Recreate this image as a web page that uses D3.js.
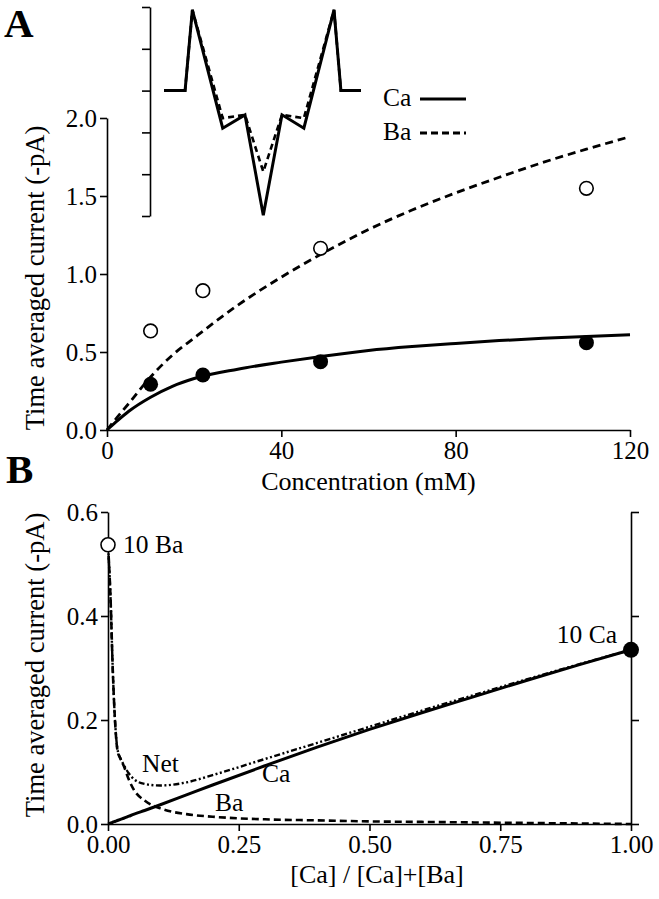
<!DOCTYPE html>
<html>
<head>
<meta charset="utf-8">
<script src="https://cdn.jsdelivr.net/npm/d3@7"></script>
<style>
  html, body { margin: 0; padding: 0; background: #fff; }
  svg { display: block; }
  svg text { font-family: "Liberation Serif", "Times New Roman", serif !important; font-size: 25.5px; fill: #000; }
  svg g.axis text { font-size: 25px; }
  svg text.title { font-size: 26px; }
  svg text.ytitle { font-size: 26.5px; }
  svg text.panel { font-size: 41px; font-weight: bold; }
</style>
</head>
<body>
<script>
// ---------- Panel A data ----------
const concPts = [10, 22, 49, 110];
const caPts = [0.293, 0.353, 0.438, 0.56];
const baPts = [0.635, 0.893, 1.165, 1.549];
const fitConc = [0, 2, 5, 10, 15, 20, 30, 40, 50, 60, 70, 80, 90, 100, 110, 120];
const caFit = [0, 0.05, 0.12, 0.21, 0.28, 0.33, 0.39, 0.435, 0.475, 0.51, 0.535, 0.555, 0.573, 0.588, 0.6, 0.61];
const baFit = [0, 0.07, 0.17, 0.34, 0.48, 0.59, 0.8, 0.98, 1.14, 1.285, 1.41, 1.52, 1.62, 1.715, 1.8, 1.88];
const xTicksA = [0, 40, 80, 120];
const yTicksA = [0, 0.5, 1.0, 1.5, 2.0];

// ---------- Inset (energy profile) ----------
const insetPos = [0, 1.07, 1.44, 2.98, 4.11, 5.04, 5.99, 7.1, 8.63, 8.98, 10];
const insetCa = [3, 3, 4.93, 2.1, 2.42, 0.02, 2.42, 2.1, 4.93, 3, 3];
const insetBa = [3, 3, 4.93, 2.34, 2.42, 1.06, 2.42, 2.34, 4.93, 3, 3];
const insetTicks = [0, 1, 2, 3, 4, 5];
const legendLabels = ["Ca", "Ba"];

// ---------- Panel B data ----------
const fracB = [0, 0.002, 0.005, 0.009, 0.013, 0.018, 0.024, 0.03, 0.04, 0.05, 0.07, 0.1, 0.15, 0.2, 0.3, 0.4, 0.5, 0.6, 0.7, 0.8, 0.9, 1.0];
const caB  = [0, 0.0007, 0.0019, 0.0033, 0.0048, 0.0067, 0.0089, 0.011, 0.015, 0.019, 0.026, 0.037, 0.056, 0.075, 0.112, 0.148, 0.182, 0.214, 0.245, 0.276, 0.306, 0.335];
const baB  = [0.537, 0.5, 0.43, 0.3, 0.206, 0.142, 0.125, 0.112, 0.085, 0.065, 0.045, 0.03, 0.019, 0.014, 0.009, 0.007, 0.005, 0.004, 0.003, 0.002, 0.001, 0.0];
const netB = [0.537, 0.5, 0.43, 0.3, 0.206, 0.145, 0.126, 0.114, 0.097, 0.086, 0.077, 0.074, 0.08, 0.094, 0.125, 0.156, 0.187, 0.218, 0.248, 0.278, 0.307, 0.335];
const endPtsFrac = [0, 1];
const endPtsVal = [0.537, 0.335];
const endLabels = ["10 Ba", "10 Ca"];
const xTicksB = [0, 0.25, 0.5, 0.75, 1.0];
const yTicksB = [0, 0.2, 0.4, 0.6];

const W = 659, H = 899;

const svg = d3.select("body").append("svg").attr("width", W).attr("height", H)
  .style("background", "#fff");

function styleAxis(g) {
  g.attr("class", "axis").attr("font-family", null).attr("font-size", null);
  g.selectAll("path, line").attr("stroke", "#000").attr("stroke-width", 1.6);
  g.selectAll("text").attr("fill", "#000");
}

// ================= Panel A =================
const xA = d3.scaleLinear().domain([0, 120]).range([107, 630]);
const yA = d3.scaleLinear().domain([0, 2]).range([430, 118]);

svg.append("g").attr("transform", `translate(0,${yA(0)})`)
  .call(d3.axisBottom(xA).tickValues(xTicksA).tickFormat(d3.format("d"))
    .tickSize(7).tickSizeOuter(0).tickPadding(4))
  .call(styleAxis);
svg.append("g").attr("transform", `translate(${xA(0)},0)`)
  .call(d3.axisLeft(yA).tickValues(yTicksA).tickFormat(d3.format(".1f"))
    .tickSize(7).tickSizeOuter(0).tickPadding(3))
  .call(styleAxis);

const lineA = (vals) => d3.line().x((d, i) => xA(fitConc[i])).y(d => yA(d)).curve(d3.curveMonotoneX)(vals);
svg.append("path").attr("d", lineA(baFit)).attr("fill", "none").attr("stroke", "#000")
  .attr("stroke-width", 2.8).attr("stroke-dasharray", "8,5");
svg.append("path").attr("d", lineA(caFit)).attr("fill", "none").attr("stroke", "#000")
  .attr("stroke-width", 3);

svg.append("g").selectAll("circle").data(baPts).join("circle")
  .attr("cx", (d, i) => xA(concPts[i])).attr("cy", d => yA(d)).attr("r", 6.8)
  .attr("fill", "#fff").attr("stroke", "#000").attr("stroke-width", 1.6);
svg.append("g").selectAll("circle").data(caPts).join("circle")
  .attr("cx", (d, i) => xA(concPts[i])).attr("cy", d => yA(d)).attr("r", 7.5)
  .attr("fill", "#000");

svg.append("text").attr("class", "title").attr("x", (xA.range()[0] + xA.range()[1]) / 2).attr("y", 489.5)
  .attr("text-anchor", "middle").text("Concentration (mM)");
svg.append("text").attr("class", "ytitle").attr("transform", `translate(44,${(yA(0) + yA(2)) / 2 + 4}) rotate(-90)`)
  .attr("text-anchor", "middle").text("Time averaged current (-pA)");
svg.append("text").attr("class", "panel").attr("x", 4).attr("y", 37).text("A");

// Inset
const xI = d3.scaleLinear().domain([0, 10]).range([164, 361]);
const yI = d3.scaleLinear().domain([0, 5]).range([216, 7]);
svg.append("g").attr("transform", "translate(150,0)")
  .call(d3.axisLeft(yI).tickValues(insetTicks).tickFormat("").tickSize(8).tickSizeOuter(0))
  .call(styleAxis);
const lineI = (vals) => d3.line().x((d, i) => xI(insetPos[i])).y(d => yI(d))(vals);
svg.append("path").attr("d", lineI(insetBa)).attr("fill", "none").attr("stroke", "#000")
  .attr("stroke-width", 2.6).attr("stroke-dasharray", "6,4");
svg.append("path").attr("d", lineI(insetCa)).attr("fill", "none").attr("stroke", "#000")
  .attr("stroke-width", 3).attr("stroke-linejoin", "miter");

// Legend
const legY = [99, 133];
legendLabels.forEach((lab, i) => {
  svg.append("text").attr("x", 383).attr("y", legY[i] + 7).text(lab);
  svg.append("line").attr("x1", 420).attr("x2", 466).attr("y1", legY[i]).attr("y2", legY[i])
    .attr("stroke", "#000").attr("stroke-width", 2.8)
    .attr("stroke-dasharray", i === 0 ? null : "7,4");
});

// ================= Panel B =================
const xB = d3.scaleLinear().domain([0, 1]).range([108, 631]);
const yB = d3.scaleLinear().domain([0, 0.6]).range([824, 512]);

svg.append("g").attr("transform", `translate(0,${yB(0)})`)
  .call(d3.axisBottom(xB).tickValues(xTicksB).tickFormat(d3.format(".2f"))
    .tickSize(7).tickSizeOuter(0).tickPadding(4))
  .call(styleAxis);
svg.append("g").attr("transform", `translate(${xB(0)},0)`)
  .call(d3.axisLeft(yB).tickValues(yTicksB).tickFormat(d3.format(".1f"))
    .tickSize(7).tickSizeOuter(0).tickPadding(3))
  .call(styleAxis);
svg.append("g").attr("transform", `translate(${xB(1)},0)`)
  .call(d3.axisRight(yB).tickValues(yTicksB).tickFormat("")
    .tickSize(8).tickSizeOuter(0))
  .call(styleAxis);

const lineB = (vals) => d3.line().x((d, i) => xB(fracB[i])).y(d => yB(d)).curve(d3.curveMonotoneX)(vals);
svg.append("path").attr("d", lineB(baB)).attr("fill", "none").attr("stroke", "#000")
  .attr("stroke-width", 2.6).attr("stroke-dasharray", "7,4");
svg.append("path").attr("d", lineB(netB)).attr("fill", "none").attr("stroke", "#000")
  .attr("stroke-width", 2.4).attr("stroke-dasharray", "6,2.5,2,2.5,2,2.5");
svg.append("path").attr("d", lineB(caB)).attr("fill", "none").attr("stroke", "#000")
  .attr("stroke-width", 3);

svg.append("circle").attr("cx", xB(endPtsFrac[0])).attr("cy", yB(endPtsVal[0])).attr("r", 7)
  .attr("fill", "#fff").attr("stroke", "#000").attr("stroke-width", 1.6);
svg.append("circle").attr("cx", xB(endPtsFrac[1])).attr("cy", yB(endPtsVal[1])).attr("r", 8)
  .attr("fill", "#000");

svg.append("text").attr("x", 123).attr("y", 553).text(endLabels[0]);
svg.append("text").attr("x", 617).attr("y", 643).attr("text-anchor", "end").text(endLabels[1]);
svg.append("text").attr("x", 142).attr("y", 772).text("Net");
svg.append("text").attr("x", 262).attr("y", 782).text("Ca");
svg.append("text").attr("x", 215).attr("y", 811).text("Ba");

svg.append("text").attr("class", "title").attr("x", 377).attr("y", 883)
  .attr("text-anchor", "middle").text("[Ca] / [Ca]+[Ba]");
svg.append("text").attr("class", "ytitle").attr("transform", `translate(44,${(yB(0) + yB(0.6)) / 2 - 3}) rotate(-90)`)
  .attr("text-anchor", "middle").text("Time averaged current (-pA)");
svg.append("text").attr("class", "panel").attr("x", 6).attr("y", 483).text("B");
</script>
</body>
</html>
